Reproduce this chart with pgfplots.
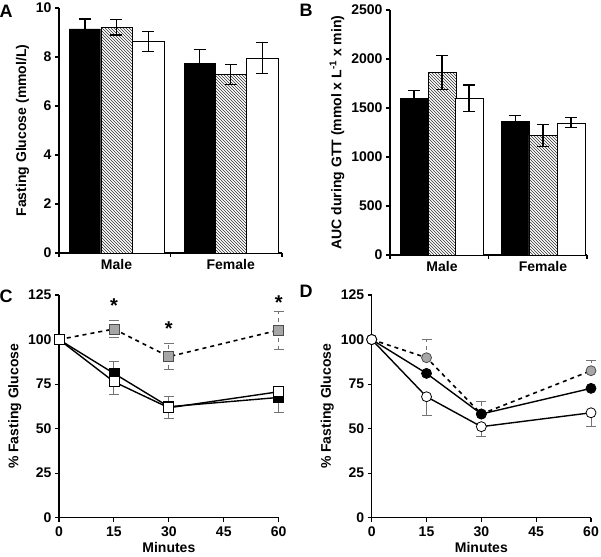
\documentclass[border=0pt]{standalone}
\usepackage{pgfplots}
\pgfplotsset{compat=1.18}
\usepackage{fontspec}
\setmainfont{Liberation Sans}
\usetikzlibrary{patterns}

\pgfplotsset{
  panel/.style={
    scale only axis, anchor=south west,
    axis lines*=left, axis line style={line width=1.3pt},
    tick align=outside, major tick length=4pt,
    tick style={line width=1.1pt, black},
    ticklabel style={font=\fontsize{14}{16}\selectfont\bfseries},
    label style={font=\fontsize{14}{16}\selectfont\bfseries},
    /pgf/number format/assume math mode=true,
    /pgf/number format/1000 sep={},
    ymin=0, clip=false,
  },
  barpanel/.style={panel, xmin=0, xmax=2, xtick={0,1,2}, xticklabels={},
    extra x tick style={major tick length=0pt, xticklabel style={yshift=-3pt}},
    error bars/error bar style={black, line width=1.2pt},
    error bars/error mark options={rotate=90, mark size=6pt, line width=1.2pt, black}},
  linepanel/.style={panel, xmin=0, xmax=60, ymax=125, xtick={0,15,...,60}, ytick={0,25,...,125},
    xlabel={Minutes}, ylabel={\% Fasting Glucose},
    xticklabel style={inner sep=0pt, anchor=base, yshift=-15pt},
    xlabel style={inner sep=0pt, at={(axis description cs:0.5,0)}, anchor=base, yshift=-35pt}},
  hatch/.style={fill=white, postaction={pattern=north west lines, pattern color=black!80}},
  errthin/.style={error bars/.cd, y dir=both, y explicit,
    error bar style={black!55, line width=0.9pt},
    error mark options={rotate=90, mark size=5pt, line width=0.9pt, black!55}},
}

\begin{document}
\begin{tikzpicture}
\useasboundingbox (0,0) rectangle (601pt,-556pt);

% A
\begin{axis}[barpanel, at={(59pt,-253pt)}, width=223pt, height=245pt, ymax=10,
  ytick={0,2,...,10}, extra x ticks={0.516,1.54}, extra x tick labels={Male,Female},
  ylabel={Fasting Glucose (mmol/L)}]
\addplot[ybar, bar width=0.28, bar shift=0, draw=black, fill=black,
  error bars/.cd, y dir=both, y explicit]
  coordinates {(0.233,9.15) +- (0,0.4) (1.262,7.74) +- (0,0.55)};
\addplot[ybar, bar width=0.28, bar shift=0, draw=black, hatch,
  error bars/.cd, y dir=both, y explicit]
  coordinates {(0.514,9.22) +- (0,0.32) (1.541,7.28) +- (0,0.4)};
\addplot[ybar, bar width=0.28, bar shift=0, draw=black, fill=white,
  error bars/.cd, y dir=both, y explicit]
  coordinates {(0.8,8.64) +- (0,0.4) (1.823,7.96) +- (0,0.63)};
\end{axis}

% B
\begin{axis}[barpanel, at={(390pt,-255pt)}, width=197pt, height=245pt, ymax=2500,
  ytick={0,500,...,2500}, extra x ticks={0.528,1.553}, extra x tick labels={Male,Female},
  ylabel={AUC during GTT (mmol x L\textsuperscript{-1} x min)}]
\addplot[ybar, bar width=0.284, bar shift=0, draw=black, fill=black,
  error bars/.cd, y dir=both, y explicit]
  coordinates {(0.244,1599) +- (0,78) (1.272,1364) +- (0,58)};
\addplot[ybar, bar width=0.284, bar shift=0, draw=black, hatch,
  error bars/.cd, y dir=both, y explicit]
  coordinates {(0.528,1861) +- (0,175) (1.553,1221) +- (0,113)};
\addplot[ybar, bar width=0.284, bar shift=0, draw=black, fill=white,
  error bars/.cd, y dir=both, y explicit]
  coordinates {(0.802,1599) +- (0,136) (1.838,1350) +- (0,52)};
\end{axis}

% C
\begin{axis}[linepanel, at={(59pt,-517.7pt)}, width=219.7pt, height=222.7pt]
\addplot[black, line width=1.6pt, dash pattern=on 4pt off 4pt, mark=square*, mark size=5pt,
  mark options={solid, fill=black!35, draw=black!70, line width=0.8pt}, errthin]
  coordinates {(0,100) (15,105.9) +- (0,5) (30,90.4) +- (0,7.2) (60,105.3) +- (0,10.7)};
\addplot[black, line width=1.4pt, mark=square*, mark size=5pt,
  mark options={fill=black, line width=0.8pt}, errthin]
  coordinates {(0,100) (15,81) += (0,6.6) (30,62.3) (60,67.5) -= (0,8.4)};
\addplot[black, line width=1.4pt, mark=square*, mark size=5pt,
  mark options={fill=white, line width=0.8pt}, errthin]
  coordinates {(0,100) (15,76.3) -= (0,7.1) (30,61.7) +- (0,6.2) (60,70.7) += (0,2.8)};
\node[font=\fontsize{20}{22}\selectfont\bfseries] at (axis cs:15,119) {*};
\node[font=\fontsize{20}{22}\selectfont\bfseries] at (axis cs:30,106) {*};
\node[font=\fontsize{20}{22}\selectfont\bfseries] at (axis cs:60,121) {*};
\end{axis}

% D
\begin{axis}[linepanel, at={(371.7pt,-517.7pt)}, width=219.3pt, height=222.7pt]
\addplot[black, line width=1.6pt, dash pattern=on 4pt off 4pt, mark=*, mark size=5pt,
  mark options={solid, fill=black!35, draw=black!70, line width=0.8pt}, errthin]
  coordinates {(0,100) (15,89.8) += (0,10.3) (30,58.2) += (0,6.9) (60,82.5) += (0,6)};
\addplot[black, line width=1.4pt, mark=*, mark size=5pt,
  mark options={fill=black, line width=0.8pt}]
  coordinates {(0,100) (15,81) (30,58.2) (60,72.6)};
\addplot[black, line width=1.4pt, mark=*, mark size=5pt,
  mark options={fill=white, line width=0.8pt}, errthin]
  coordinates {(0,100) (15,67.9) -= (0,10.3) (30,51.1) -= (0,5.6) (60,58.9) -= (0,7.4)};
\end{axis}

\node[font=\fontsize{18}{20}\selectfont\bfseries] at (6pt,-11pt) {A};
\node[font=\fontsize{18}{20}\selectfont\bfseries] at (306pt,-10pt) {B};
\node[font=\fontsize{18}{20}\selectfont\bfseries] at (6pt,-296pt) {C};
\node[font=\fontsize{18}{20}\selectfont\bfseries] at (306pt,-291pt) {D};
\end{tikzpicture}
\end{document}
